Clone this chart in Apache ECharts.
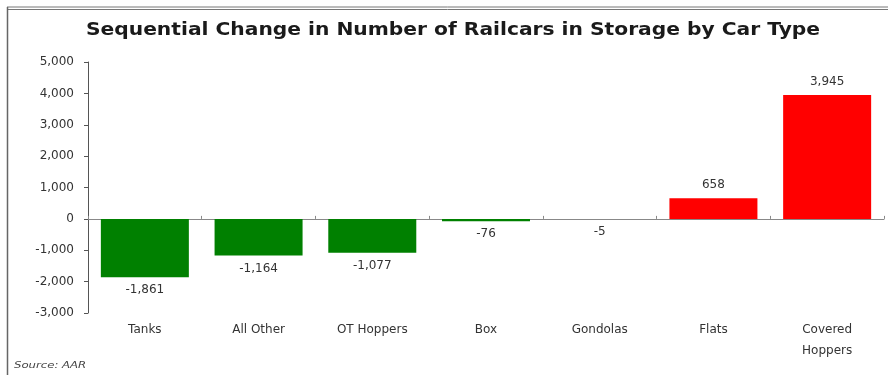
<!DOCTYPE html>
<html>
<head>
<meta charset="utf-8">
<script src="https://cdn.jsdelivr.net/npm/echarts@6/dist/echarts.min.js"></script>
<style>
html,body{margin:0;padding:0;background:#fff;}
#c{width:888px;height:375px;}
</style>
</head>
<body>
<div id="c"></div>
<script>
const categories = ["Tanks", "All Other", "OT Hoppers", "Box", "Gondolas", "Flats", "Covered\nHoppers"];
const values = [-1861, -1164, -1077, -76, -5, 658, 3945];
const yTicks = { min: -3000, max: 5000, interval: 1000 };
const titleText = "Sequential Change in Number of Railcars in Storage by Car Type";
const sourceText = "Source: AAR";

const chart = echarts.init(document.getElementById('c'), null, { renderer: 'canvas' });
const fmt = v => (v < 0 ? '-' : '') + Math.abs(v).toLocaleString('en-US');
const FONT = 'DejaVu Sans, Verdana, sans-serif';

chart.setOption({
  animation: false,
  graphic: [
    { type: 'line', shape: { x1: 7, y1: 7, x2: 888, y2: 7 }, style: { stroke: '#777', lineWidth: 1 } },
    { type: 'line', shape: { x1: 7, y1: 9.5, x2: 888, y2: 9.5 }, style: { stroke: '#777', lineWidth: 1 } },
    { type: 'line', shape: { x1: 7.5, y1: 7, x2: 7.5, y2: 375 }, style: { stroke: '#666', lineWidth: 1.5 } },
    { type: 'text', x: 453, y: 31, scaleX: 1.19,
      style: { text: titleText, align: 'center', verticalAlign: 'middle', fontFamily: FONT, fontSize: 17, fontWeight: 'bold', fill: '#1a1a1a' } },
    { type: 'text', x: 14, y: 366, scaleX: 1.3,
      style: { text: sourceText, verticalAlign: 'middle', fontFamily: FONT, fontSize: 9, fontStyle: 'italic', fill: '#444' } }
  ],
  grid: { left: 88, right: 4, top: 62, bottom: 62, containLabel: false },
  xAxis: [
    {
      type: 'category', data: categories,
      axisLine: { onZero: true, lineStyle: { color: '#888', width: 1 } },
      axisTick: { show: true, length: -3, lineStyle: { color: '#888' } },
      axisLabel: { show: false }
    },
    {
      type: 'category', data: categories, position: 'bottom',
      axisLine: { show: false }, axisTick: { show: false },
      axisLabel: { margin: 6, fontFamily: FONT, fontSize: 12, color: '#333', lineHeight: 21 }
    }
  ],
  yAxis: {
    type: 'value', min: yTicks.min, max: yTicks.max, interval: yTicks.interval,
    axisLine: { show: true, lineStyle: { color: '#555', width: 1 } },
    axisTick: { show: true, length: 4, lineStyle: { color: '#555' } },
    splitLine: { show: false },
    axisLabel: { margin: 14, fontFamily: FONT, fontSize: 12, color: '#333', formatter: fmt }
  },
  series: [{
    type: 'bar', xAxisIndex: 0, barWidth: 88,
    data: values.map(v => ({
      value: v,
      itemStyle: { color: v < 0 ? '#008000' : '#ff0000' },
      label: { position: v < 0 ? 'bottom' : 'top' }
    })),
    label: {
      show: true, fontFamily: FONT, fontSize: 12, color: '#333', distance: 7,
      formatter: p => fmt(p.value)
    }
  }]
});
</script>
</body>
</html>
